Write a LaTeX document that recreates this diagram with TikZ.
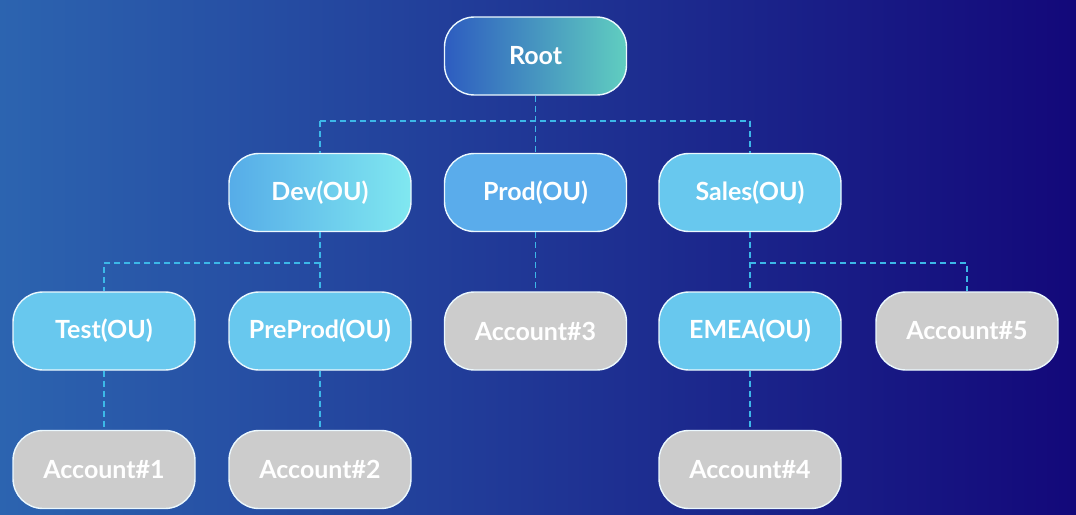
\documentclass[tikz,border=0pt]{standalone}
\usepackage{fontspec}
\setmainfont{Lato}
\begin{document}
\begin{tikzpicture}[x=1pt,y=-1pt,
  box/.style={rectangle, rounded corners=30pt, minimum width=182pt, minimum height=78pt,
    draw=white!92!cyan, line width=1.4pt, text=white, inner sep=0pt,
    font=\fontsize{25}{28}\selectfont\bfseries},
  ou/.style={box, fill=ouc},
  acct/.style={box, fill=acc},
  link/.style={draw=linkc, line width=1.8pt, dash pattern=on 6pt off 4pt}]
\definecolor{ouc}{RGB}{104,200,238}
\definecolor{acc}{RGB}{204,204,204}
\definecolor{linkc}{RGB}{60,184,232}
\definecolor{bgl}{RGB}{44,100,176}
\definecolor{bgm}{RGB}{30,52,150}
\definecolor{bgr}{RGB}{19,8,122}
\useasboundingbox (0,0) rectangle (1076,514);
\shade[left color=bgl, middle color=bgm, right color=bgr] (0,0) rectangle (1076,514);

\coordinate (j1l) at (320,121);
\coordinate (j1r) at (750,121);
\coordinate (j2) at (320,263);
\coordinate (j2l) at (104,263);
\coordinate (j3) at (750,263);
\coordinate (j3r) at (967,263);

\node[box, left color={rgb,255:red,45;green,92;blue,192}, right color={rgb,255:red,96;green,206;blue,192}] (root) at (535.5,56) {Root};
\node[box, left color={rgb,255:red,86;green,172;blue,232}, right color={rgb,255:red,128;green,232;blue,240}] (dev) at (320,192.5) {Dev(OU)};
\node[box, fill={rgb,255:red,90;green,172;blue,235}] (prod) at (535.5,192.5) {Prod(OU)};
\node[ou] (sales) at (750,192.5) {Sales(OU)};
\node[ou] (test) at (104,331) {Test(OU)};
\node[ou] (preprod) at (320,331) {PreProd(OU)};
\node[acct] (a3) at (535.5,331) {Account\#3};
\node[ou] (emea) at (750,331) {EMEA(OU)};
\node[acct] (a5) at (967,331) {Account\#5};
\node[acct] (a1) at (104,469.5) {Account\#1};
\node[acct] (a2) at (320,469.5) {Account\#2};
\node[acct] (a4) at (750,469.5) {Account\#4};

\path[link] (root.south) -- (prod.north);
\path[link] (j1l) -- (j1r);
\path[link] (j1l) -- (dev.north);
\path[link] (j1r) -- (sales.north);
\path[link] (dev.south) -- (j2) -- (preprod.north);
\path[link] (j2) -- (j2l) -- (test.north);
\path[link] (sales.south) -- (j3) -- (emea.north);
\path[link] (j3) -- (j3r) -- (a5.north);
\path[link] (prod.south) -- (a3.north);
\path[link] (test.south) -- (a1.north);
\path[link] (preprod.south) -- (a2.north);
\path[link] (emea.south) -- (a4.north);
\end{tikzpicture}
\end{document}
